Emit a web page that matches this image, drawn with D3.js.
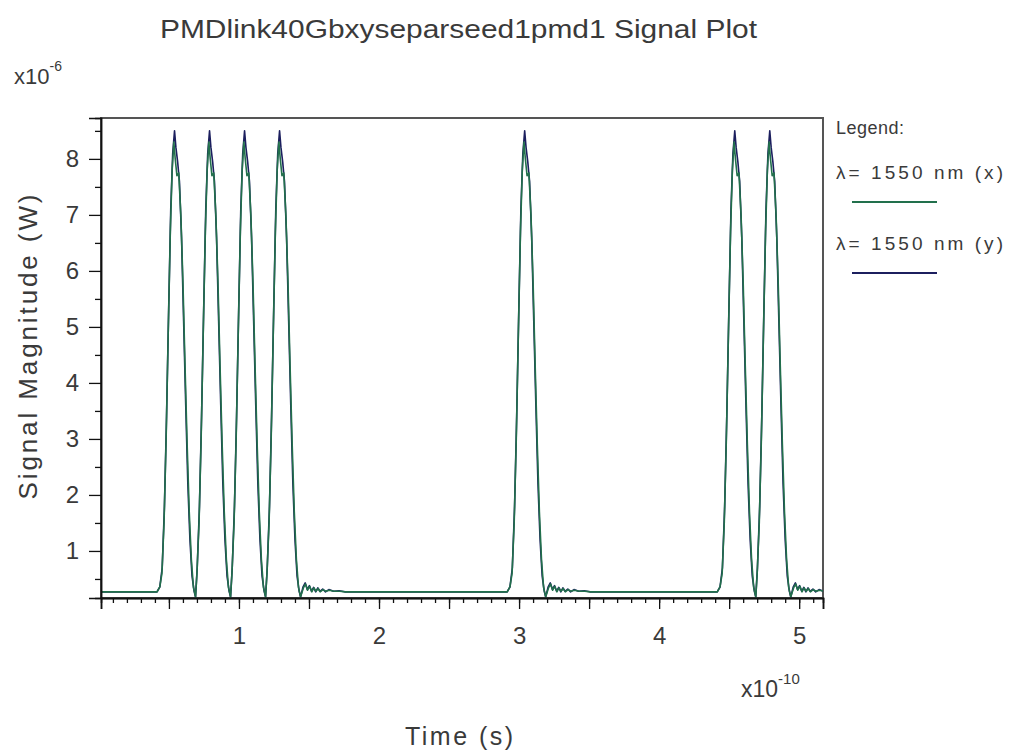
<!DOCTYPE html>
<html lang="en">
<head>
  <meta charset="UTF-8">
  <title>PMDlink40Gbxyseparseed1pmd1 Signal Plot</title>
  <script src="https://d3js.org/d3.v7.min.js"></script>
  <style>
    body { margin: 0; background: #fff; font-family: 'Liberation Sans', Arial, sans-serif; }
    svg text { fill: #3a3a3a; }
  </style>
</head>
<body>
  <div id="chart"></div>

  <script>
    // time in units of 1e-10 s, magnitude in units of 1e-6 W
    const timeDomain = [0.015, 5.17];
    const magDomain = [0.16, 8.73];

    const pulseGroups = [
      [0.54, 0.79, 1.04, 1.29],
      [3.04],
      [4.54, 4.79]
    ];

    const baselineLevel = 0.27;
    const dipPoint = [0.15, 0.18];
    const leftFoot = [[-0.125, 0.27], [-0.105, 0.36]];

    // pulse profile around each peak (offset, value)
    const pulseShapeX = [
      [-0.09, 0.6], [-0.075, 1.5], [-0.06, 3.0], [-0.045, 4.9], [-0.03, 6.7],
      [-0.017, 7.8], [-0.005, 8.3], [0.005, 8.0], [0.017, 7.7], [0.03, 7.75],
      [0.045, 7.0], [0.06, 5.8], [0.075, 4.3], [0.09, 2.9], [0.105, 1.7],
      [0.12, 0.85], [0.135, 0.35]
    ];
    const pulseShapeY = [
      [-0.088, 0.7], [-0.072, 1.8], [-0.057, 3.4], [-0.042, 5.3], [-0.027, 7.1],
      [-0.013, 8.1], [0, 8.5], [0.01, 8.2], [0.022, 7.95], [0.035, 7.6],
      [0.05, 6.6], [0.065, 5.1], [0.08, 3.6], [0.095, 2.2], [0.11, 1.2],
      [0.125, 0.55], [0.14, 0.28]
    ];

    // small ringing after the last pulse of a group
    const ringShapeX = [
      [0.17, 0.34], [0.185, 0.41], [0.2, 0.3], [0.215, 0.37], [0.23, 0.27],
      [0.245, 0.34], [0.26, 0.28], [0.275, 0.33], [0.29, 0.27], [0.31, 0.31],
      [0.33, 0.28], [0.355, 0.3], [0.39, 0.28], [0.43, 0.28], [0.47, 0.27]
    ];
    const ringShapeY = [
      [0.168, 0.36], [0.183, 0.43], [0.198, 0.31], [0.213, 0.38], [0.228, 0.28],
      [0.243, 0.35], [0.258, 0.27], [0.273, 0.34], [0.288, 0.28], [0.308, 0.32],
      [0.328, 0.27], [0.352, 0.31], [0.385, 0.28], [0.425, 0.29], [0.465, 0.27]
    ];

    const yTicks = [1, 2, 3, 4, 5, 6, 7, 8];
    const yMinorTicks = [0.5, 1.5, 2.5, 3.5, 4.5, 5.5, 6.5, 7.5, 8.5];
    const xTicks = [1, 2, 3, 4, 5];
    const xHalfTicks = [0.5, 1.5, 2.5, 3.5, 4.5];
    const xMinorTicks = d3.range(1, 52).map(i => i / 10);

    const seriesInfo = [
      { name: "λ= 1550 nm (x)", shape: pulseShapeX, ring: ringShapeX, color: "#22704c" },
      { name: "λ= 1550 nm (y)", shape: pulseShapeY, ring: ringShapeY, color: "#1c1f5e" }
    ];

    function buildSeries(info) {
      const pts = [[timeDomain[0], baselineLevel]];
      pulseGroups.forEach(group => {
        leftFoot.forEach(p => pts.push([group[0] + p[0], p[1]]));
        group.forEach((c, i) => {
          info.shape.forEach(p => pts.push([c + p[0], p[1]]));
          pts.push([c + dipPoint[0], dipPoint[1]]);
          if (i === group.length - 1) {
            info.ring.forEach(p => pts.push([c + p[0], p[1]]));
          }
        });
      });
      pts.push([timeDomain[1] + 0.1, baselineLevel]);
      return pts;
    }

    const W = 1010, H = 756;
    const plot = { left: 101, right: 823, top: 118, bottom: 598 };

    const svg = d3.select("#chart").append("svg")
      .attr("width", W)
      .attr("height", H);

    const x = d3.scaleLinear().domain(timeDomain).range([plot.left, plot.right]);
    const y = d3.scaleLinear().domain(magDomain).range([plot.bottom, plot.top]);

    svg.append("clipPath").attr("id", "clip")
      .append("rect")
      .attr("x", plot.left).attr("y", plot.top)
      .attr("width", plot.right - plot.left)
      .attr("height", plot.bottom - plot.top);

    // frame
    svg.append("rect")
      .attr("x", plot.left).attr("y", plot.top)
      .attr("width", plot.right - plot.left)
      .attr("height", plot.bottom - plot.top)
      .attr("fill", "none")
      .attr("stroke", "#555")
      .attr("stroke-width", 2);

    const line = d3.line().x(d => x(d[0])).y(d => y(d[1]));

    // y polarisation underneath, x polarisation on top
    const traces = svg.append("g").attr("clip-path", "url(#clip)");
    seriesInfo.slice().reverse().forEach(s => {
      traces.append("path")
        .datum(buildSeries(s))
        .attr("fill", "none")
        .attr("stroke", s.color)
        .attr("stroke-width", 1.6)
        .attr("stroke-linejoin", "round")
        .attr("d", line);
    });

    // y axis
    const yAxis = svg.append("g").attr("transform", `translate(${plot.left},0)`);
    yAxis.call(d3.axisLeft(y).tickValues(yTicks).tickSize(12).tickPadding(10).tickFormat(d3.format("d")));
    yAxis.append("g").call(d3.axisLeft(y).tickValues(yMinorTicks).tickSize(6).tickFormat(""));

    // x axis
    const xAxis = svg.append("g").attr("transform", `translate(0,${plot.bottom})`);
    xAxis.call(d3.axisBottom(x).tickValues(xTicks).tickSize(11).tickPadding(18).tickFormat(d3.format("d")));
    xAxis.append("g").call(d3.axisBottom(x).tickValues(xHalfTicks).tickSize(11).tickFormat(""));
    xAxis.append("g").call(d3.axisBottom(x).tickValues(xMinorTicks).tickSize(5).tickFormat(""));

    svg.selectAll(".domain").attr("stroke", "#111").attr("stroke-width", 1.5);
    svg.selectAll(".tick line").attr("stroke", "#111").attr("stroke-width", 1.3);
    svg.selectAll(".tick text")
      .style("font-family", "'Liberation Sans', Arial, sans-serif")
      .style("font-size", "24px")
      .style("fill", "#3a3a3a");

    // titles
    svg.append("text")
      .attr("x", 160).attr("y", 38)
      .attr("textLength", 597)
      .attr("lengthAdjust", "spacingAndGlyphs")
      .style("font-size", "25px")
      .text("PMDlink40Gbxyseparseed1pmd1 Signal Plot");

    svg.append("text")
      .attr("x", 405).attr("y", 745)
      .attr("textLength", 108)
      .style("font-size", "25px")
      .text("Time (s)");

    svg.append("text")
      .attr("transform", "translate(37,347) rotate(-90)")
      .attr("text-anchor", "middle")
      .attr("textLength", 305)
      .style("font-size", "26px")
      .text("Signal Magnitude (W)");

    // exponent labels
    const expY = svg.append("text").attr("x", 14).attr("y", 84).style("font-size", "22px");
    expY.append("tspan").text("x10");
    expY.append("tspan").attr("dy", -13).style("font-size", "14px").text("-6");

    const expX = svg.append("text").attr("x", 741).attr("y", 697).style("font-size", "23px");
    expX.append("tspan").text("x10");
    expX.append("tspan").attr("dy", -13).style("font-size", "15px").text("-10");

    // legend
    svg.append("text")
      .attr("x", 836).attr("y", 134)
      .attr("textLength", 68)
      .style("font-size", "18px")
      .text("Legend:");

    seriesInfo.forEach((s, i) => {
      const top = 179 + i * 71;
      svg.append("text")
        .attr("x", 836).attr("y", top)
        .attr("textLength", 167)
        .style("font-size", "19px")
        .text(s.name);
      svg.append("line")
        .attr("x1", 852).attr("x2", 937)
        .attr("y1", top + 23).attr("y2", top + 23)
        .attr("stroke", s.color)
        .attr("stroke-width", 2);
    });
  </script>
</body>
</html>
